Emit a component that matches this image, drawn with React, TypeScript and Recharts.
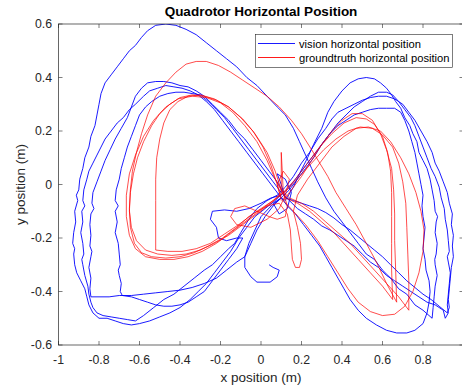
import { LineChart, Line, XAxis, YAxis } from "recharts"

// axis ticks
const xTicks = [-1, -0.8, -0.6, -0.4, -0.2, 0, 0.2, 0.4, 0.6, 0.8, 1]
const yTicks = [-0.6, -0.4, -0.2, 0, 0.2, 0.4, 0.6]

// vision estimate (x, y) in metres in flight order
const visionPath: [number, number][] = [
  [0.04, -0.3], [0.06, -0.31], [0.09, -0.32], [0.08, -0.345], [0.045, -0.365], [-0.02, -0.365], [-0.05, -0.345],
  [-0.08, -0.31], [-0.08, -0.27], [-0.06, -0.22], [-0.03, -0.17], [0.0, -0.12], [0.05, -0.08], [0.1, -0.05],
  // loop 1
  [0.12, -0.06], [0.16, -0.01], [0.19, 0.04], [0.23, 0.1], [0.26, 0.15], [0.3, 0.21], [0.33, 0.27], [0.36, 0.31],
  [0.4, 0.35], [0.44, 0.38], [0.48, 0.395], [0.52, 0.4], [0.56, 0.395], [0.59, 0.38], [0.62, 0.36], [0.645, 0.335],
  [0.665, 0.31], [0.69, 0.285], [0.71, 0.25], [0.735, 0.22], [0.75, 0.19], [0.77, 0.16], [0.78, 0.12], [0.8, 0.09],
  [0.82, 0.06], [0.835, 0.02], [0.845, -0.02], [0.855, -0.06], [0.86, -0.1], [0.872, -0.12], [0.865, -0.14],
  [0.86, -0.18], [0.87, -0.22], [0.865, -0.26], [0.858, -0.28], [0.86, -0.3], [0.87, -0.34], [0.86, -0.38],
  [0.855, -0.42], [0.85, -0.46], [0.845, -0.5], [0.8, -0.47], [0.76, -0.45], [0.72, -0.41], [0.68, -0.39],
  [0.64, -0.35], [0.6, -0.32], [0.56, -0.28], [0.52, -0.26], [0.48, -0.22], [0.44, -0.18], [0.4, -0.14],
  [0.36, -0.1], [0.32, -0.05], [0.28, 0.01], [0.25, 0.06], [0.22, 0.11], [0.19, 0.16], [0.16, 0.21], [0.12, 0.26],
  [0.08, 0.29], [0.03, 0.33], [-0.02, 0.37], [-0.07, 0.4], [-0.12, 0.44], [-0.17, 0.47], [-0.22, 0.5],
  [-0.27, 0.53], [-0.32, 0.56], [-0.37, 0.58], [-0.42, 0.595], [-0.47, 0.6], [-0.52, 0.595], [-0.56, 0.575],
  [-0.59, 0.55], [-0.62, 0.52], [-0.65, 0.5], [-0.68, 0.47], [-0.71, 0.44], [-0.74, 0.41], [-0.77, 0.38],
  [-0.79, 0.34], [-0.8, 0.3], [-0.81, 0.26], [-0.82, 0.22], [-0.84, 0.18], [-0.85, 0.14], [-0.87, 0.1],
  [-0.88, 0.06], [-0.895, 0.02], [-0.9, -0.02], [-0.912, -0.04], [-0.905, -0.06], [-0.92, -0.1], [-0.915, -0.14],
  [-0.925, -0.18], [-0.93, -0.22], [-0.92, -0.24], [-0.925, -0.26], [-0.92, -0.3], [-0.91, -0.33], [-0.89, -0.36],
  [-0.87, -0.39], [-0.86, -0.42], [-0.85, -0.45], [-0.83, -0.48], [-0.8, -0.5], [-0.76, -0.5], [-0.72, -0.51],
  [-0.68, -0.52], [-0.64, -0.525], [-0.6, -0.52], [-0.55, -0.51], [-0.5, -0.495], [-0.45, -0.48], [-0.4, -0.46],
  [-0.35, -0.43], [-0.31, -0.4], [-0.27, -0.37], [-0.23, -0.33], [-0.19, -0.29], [-0.15, -0.25], [-0.11, -0.2],
  [-0.07, -0.16], [-0.03, -0.12], [0.02, -0.09], [0.07, -0.06], [0.11, -0.03],
  // loop 2
  [0.08, 0.01], [0.04, 0.05], [0.0, 0.09], [-0.04, 0.13], [-0.08, 0.17], [-0.12, 0.2], [-0.16, 0.24], [-0.2, 0.27],
  [-0.24, 0.3], [-0.28, 0.33], [-0.32, 0.35], [-0.36, 0.365], [-0.4, 0.37], [-0.44, 0.38], [-0.48, 0.385],
  [-0.52, 0.385], [-0.56, 0.38], [-0.59, 0.36], [-0.62, 0.33], [-0.64, 0.29], [-0.66, 0.25], [-0.69, 0.21],
  [-0.72, 0.17], [-0.745, 0.13], [-0.77, 0.09], [-0.79, 0.05], [-0.81, 0.01], [-0.83, -0.03], [-0.835, -0.07],
  [-0.825, -0.09], [-0.84, -0.11], [-0.845, -0.15], [-0.84, -0.19], [-0.845, -0.23], [-0.835, -0.25],
  [-0.84, -0.27], [-0.85, -0.31], [-0.84, -0.35], [-0.845, -0.39], [-0.84, -0.42], [-0.8, -0.42], [-0.75, -0.42],
  [-0.7, -0.415], [-0.64, -0.415], [-0.58, -0.41], [-0.52, -0.405], [-0.46, -0.4], [-0.4, -0.395], [-0.34, -0.385],
  [-0.28, -0.37], [-0.22, -0.35], [-0.17, -0.32], [-0.12, -0.29], [-0.08, -0.27], [-0.05, -0.22], [-0.02, -0.17],
  [0.02, -0.12], [0.06, -0.08], [0.1, -0.05], [0.14, -0.02], [0.18, 0.02], [0.22, 0.06], [0.26, 0.1], [0.3, 0.15],
  [0.34, 0.19], [0.38, 0.23], [0.42, 0.26], [0.46, 0.29], [0.5, 0.31], [0.54, 0.33], [0.58, 0.345], [0.62, 0.345],
  [0.65, 0.335], [0.68, 0.31], [0.71, 0.28], [0.74, 0.25], [0.76, 0.22], [0.78, 0.18], [0.8, 0.14], [0.82, 0.1],
  [0.84, 0.06], [0.86, 0.03], [0.88, -0.01], [0.89, -0.05], [0.905, -0.09], [0.91, -0.13], [0.92, -0.17],
  [0.925, -0.21], [0.93, -0.25], [0.92, -0.27], [0.925, -0.29], [0.935, -0.33], [0.93, -0.37], [0.925, -0.41],
  [0.92, -0.45], [0.925, -0.48], [0.91, -0.5], [0.9, -0.47], [0.86, -0.45], [0.82, -0.44], [0.78, -0.42],
  [0.74, -0.4], [0.7, -0.38], [0.66, -0.36], [0.62, -0.34], [0.58, -0.31], [0.54, -0.29], [0.5, -0.26],
  [0.46, -0.23], [0.42, -0.21], [0.38, -0.19], [0.34, -0.17], [0.3, -0.155], [0.26, -0.13], [0.22, -0.11],
  [0.18, -0.09], [0.14, -0.06],
  // loop 3
  [0.1, -0.03], [0.06, 0.01], [0.02, 0.05], [-0.02, 0.09], [-0.06, 0.13], [-0.1, 0.17], [-0.14, 0.21], [-0.18, 0.25],
  [-0.22, 0.28], [-0.26, 0.31], [-0.3, 0.335], [-0.34, 0.34], [-0.38, 0.345], [-0.42, 0.345], [-0.46, 0.34],
  [-0.5, 0.33], [-0.54, 0.31], [-0.57, 0.29], [-0.6, 0.26], [-0.62, 0.22], [-0.64, 0.18], [-0.66, 0.14],
  [-0.675, 0.1], [-0.69, 0.06], [-0.7, 0.02], [-0.715, -0.02], [-0.72, -0.06], [-0.705, -0.08], [-0.72, -0.1],
  [-0.71, -0.14], [-0.72, -0.18], [-0.705, -0.22], [-0.7, -0.26], [-0.695, -0.3], [-0.705, -0.32], [-0.7, -0.34],
  [-0.69, -0.37], [-0.695, -0.4], [-0.685, -0.415], [-0.64, -0.42], [-0.6, -0.43], [-0.56, -0.44], [-0.52, -0.45],
  [-0.48, -0.455], [-0.44, -0.455], [-0.4, -0.45], [-0.36, -0.44], [-0.32, -0.42], [-0.28, -0.4], [-0.24, -0.36],
  [-0.2, -0.32], [-0.16, -0.28], [-0.12, -0.24], [-0.09, -0.2], [-0.12, -0.2], [-0.17, -0.21], [-0.21, -0.2],
  [-0.22, -0.16], [-0.25, -0.13], [-0.24, -0.1], [-0.18, -0.095], [-0.12, -0.1], [-0.06, -0.09], [0.0, -0.07],
  [0.05, -0.05], [0.1, -0.04], [0.14, -0.01], [0.18, 0.03], [0.22, 0.07], [0.26, 0.11], [0.3, 0.15], [0.34, 0.19],
  [0.38, 0.22], [0.42, 0.24], [0.46, 0.26], [0.5, 0.27], [0.54, 0.28], [0.58, 0.285], [0.62, 0.285], [0.66, 0.285],
  [0.69, 0.27], [0.71, 0.24], [0.73, 0.2], [0.745, 0.16], [0.76, 0.12], [0.77, 0.08], [0.78, 0.04], [0.79, 0.0],
  [0.8, -0.04], [0.795, -0.08], [0.8, -0.12], [0.81, -0.16], [0.805, -0.2], [0.8, -0.24], [0.81, -0.28],
  [0.815, -0.32], [0.83, -0.36], [0.835, -0.4], [0.83, -0.44], [0.82, -0.48], [0.8, -0.52], [0.76, -0.545],
  [0.72, -0.555], [0.67, -0.555], [0.62, -0.545], [0.57, -0.525], [0.52, -0.5], [0.48, -0.47], [0.44, -0.43],
  [0.41, -0.39], [0.38, -0.35], [0.35, -0.31], [0.32, -0.27], [0.29, -0.23], [0.25, -0.19], [0.21, -0.15],
  [0.17, -0.11], [0.13, -0.08],
  // loop 4
  [0.09, -0.04], [0.05, 0.0], [0.01, 0.04], [-0.03, 0.08], [-0.07, 0.12], [-0.11, 0.16], [-0.15, 0.2], [-0.19, 0.24],
  [-0.23, 0.28], [-0.27, 0.31], [-0.31, 0.335], [-0.35, 0.35], [-0.39, 0.36], [-0.43, 0.365], [-0.47, 0.37],
  [-0.51, 0.36], [-0.55, 0.35], [-0.58, 0.33], [-0.62, 0.3], [-0.65, 0.28], [-0.68, 0.25], [-0.71, 0.23],
  [-0.74, 0.2], [-0.77, 0.17], [-0.79, 0.14], [-0.81, 0.11], [-0.83, 0.08], [-0.85, 0.05], [-0.86, 0.02],
  [-0.875, -0.02], [-0.88, -0.06], [-0.87, -0.08], [-0.885, -0.1], [-0.88, -0.14], [-0.89, -0.18], [-0.88, -0.22],
  [-0.875, -0.26], [-0.885, -0.28], [-0.88, -0.3], [-0.87, -0.34], [-0.855, -0.38], [-0.85, -0.41], [-0.84, -0.44],
  [-0.83, -0.46], [-0.81, -0.48], [-0.78, -0.49], [-0.74, -0.495], [-0.7, -0.5], [-0.66, -0.505], [-0.62, -0.51],
  [-0.58, -0.49], [-0.53, -0.46], [-0.48, -0.43], [-0.43, -0.41], [-0.38, -0.38], [-0.33, -0.35], [-0.28, -0.32],
  [-0.24, -0.3], [-0.2, -0.27], [-0.16, -0.24], [-0.13, -0.22], [-0.1, -0.18], [-0.06, -0.13], [-0.02, -0.09],
  [0.03, -0.06], [0.08, -0.04], [0.12, -0.01], [0.16, 0.03], [0.2, 0.08], [0.24, 0.12], [0.28, 0.17], [0.32, 0.21],
  [0.35, 0.245], [0.38, 0.27], [0.42, 0.285], [0.46, 0.3], [0.5, 0.315], [0.54, 0.325], [0.58, 0.33], [0.62, 0.33],
  [0.66, 0.32], [0.7, 0.3], [0.73, 0.27], [0.76, 0.24], [0.79, 0.2], [0.82, 0.16], [0.845, 0.12], [0.86, 0.08],
  [0.88, 0.05], [0.9, 0.01], [0.92, -0.03], [0.93, -0.07], [0.945, -0.11], [0.94, -0.15], [0.95, -0.19],
  [0.945, -0.23], [0.95, -0.27], [0.94, -0.31], [0.935, -0.35], [0.93, -0.39], [0.925, -0.43], [0.93, -0.46],
  [0.92, -0.48], [0.88, -0.455], [0.84, -0.43], [0.8, -0.41], [0.76, -0.385], [0.72, -0.36], [0.68, -0.33],
  [0.64, -0.3], [0.6, -0.27], [0.56, -0.245], [0.52, -0.22], [0.48, -0.195], [0.44, -0.17], [0.4, -0.15],
  [0.36, -0.125], [0.32, -0.105], [0.28, -0.09], [0.24, -0.08], [0.2, -0.07], [0.16, -0.06], [0.12, -0.05],
  [0.1, 0.0], [0.08, 0.04], [0.12, 0.02], [0.15, -0.03], [0.13, -0.09], [0.09, -0.11], [0.06, -0.07], [0.1, -0.05],
]

// ground truth (x, y) in metres
const groundtruthPath: [number, number][] = [
  // loop 1
  [0.1, -0.05], [0.08, 0.0], [0.05, 0.07], [0.01, 0.14], [-0.04, 0.2], [-0.1, 0.25], [-0.16, 0.29], [-0.22, 0.315],
  [-0.28, 0.33], [-0.34, 0.335], [-0.4, 0.325], [-0.45, 0.3], [-0.5, 0.265], [-0.54, 0.22], [-0.58, 0.16],
  [-0.61, 0.1], [-0.63, 0.04], [-0.645, -0.03], [-0.65, -0.1], [-0.64, -0.16], [-0.615, -0.21], [-0.57, -0.245],
  [-0.51, -0.26], [-0.44, -0.265], [-0.37, -0.26], [-0.3, -0.245], [-0.23, -0.22], [-0.16, -0.19], [-0.09, -0.15],
  [-0.02, -0.11], [0.05, -0.07], [0.11, -0.03], [0.17, 0.02], [0.23, 0.08], [0.29, 0.14], [0.35, 0.19],
  [0.41, 0.23], [0.47, 0.25], [0.52, 0.245], [0.56, 0.225], [0.6, 0.18], [0.625, 0.12], [0.64, 0.05],
  [0.645, -0.03], [0.645, -0.12], [0.645, -0.22], [0.645, -0.32], [0.65, -0.43], [0.6, -0.38], [0.54, -0.33],
  [0.48, -0.28], [0.42, -0.23], [0.36, -0.18], [0.3, -0.14], [0.24, -0.1], [0.18, -0.07], [0.12, -0.05],
  // loop 2
  [0.07, 0.02], [0.03, 0.09], [-0.02, 0.16], [-0.08, 0.22], [-0.14, 0.27], [-0.2, 0.305], [-0.27, 0.325],
  [-0.34, 0.33], [-0.41, 0.32], [-0.47, 0.29], [-0.53, 0.24], [-0.58, 0.18], [-0.62, 0.11], [-0.65, 0.04],
  [-0.665, -0.04], [-0.665, -0.12], [-0.65, -0.19], [-0.62, -0.24], [-0.57, -0.27], [-0.5, -0.28], [-0.43, -0.28],
  [-0.36, -0.27], [-0.29, -0.25], [-0.22, -0.22], [-0.15, -0.18], [-0.08, -0.14], [-0.01, -0.1], [0.06, -0.06],
  [0.13, -0.02], [0.19, 0.03], [0.25, 0.08], [0.31, 0.13], [0.37, 0.17], [0.43, 0.2], [0.49, 0.215], [0.55, 0.21],
  [0.6, 0.185], [0.65, 0.14], [0.68, 0.08], [0.7, 0.01], [0.715, -0.07], [0.72, -0.16], [0.725, -0.26],
  [0.73, -0.36], [0.73, -0.47], [0.68, -0.42], [0.62, -0.37], [0.56, -0.32], [0.5, -0.27], [0.44, -0.22],
  [0.38, -0.18], [0.32, -0.14], [0.26, -0.1], [0.2, -0.07], [0.14, -0.05],
  // loop 3
  [0.1, -0.02], [0.07, 0.05], [0.03, 0.12], [-0.03, 0.19], [-0.09, 0.245], [-0.16, 0.29], [-0.23, 0.32],
  [-0.3, 0.335], [-0.36, 0.33], [-0.41, 0.31], [-0.45, 0.28], [-0.48, 0.23], [-0.5, 0.17], [-0.515, 0.1],
  [-0.52, 0.02], [-0.52, -0.06], [-0.52, -0.14], [-0.52, -0.2], [-0.52, -0.245], [-0.46, -0.25], [-0.39, -0.25],
  [-0.32, -0.24], [-0.25, -0.22], [-0.18, -0.185], [-0.11, -0.15], [-0.04, -0.11], [0.03, -0.08], [0.09, -0.07],
  [0.13, -0.11], [0.145, -0.17], [0.15, -0.23], [0.155, -0.28], [0.17, -0.31], [0.19, -0.31], [0.2, -0.28],
  [0.195, -0.22], [0.18, -0.16], [0.16, -0.1], [0.18, -0.04], [0.23, 0.02], [0.29, 0.08], [0.35, 0.14],
  [0.41, 0.18], [0.47, 0.21], [0.53, 0.215], [0.59, 0.2], [0.64, 0.16], [0.69, 0.1], [0.73, 0.04], [0.765, -0.03],
  [0.79, -0.1], [0.805, -0.17], [0.8, -0.25], [0.78, -0.33], [0.75, -0.4], [0.71, -0.455], [0.66, -0.485],
  [0.6, -0.49], [0.54, -0.475], [0.48, -0.44], [0.43, -0.39], [0.38, -0.33], [0.33, -0.27], [0.28, -0.21],
  [0.22, -0.15], [0.16, -0.1], [0.11, -0.06],
  // loop 4
  [0.15, -0.02], [0.2, 0.03], [0.25, 0.09], [0.3, 0.15], [0.35, 0.2], [0.4, 0.24], [0.45, 0.265], [0.5, 0.265],
  [0.55, 0.24], [0.59, 0.19], [0.62, 0.13], [0.645, 0.06], [0.655, -0.02], [0.66, -0.11], [0.66, -0.21],
  [0.665, -0.32], [0.67, -0.44], [0.62, -0.37], [0.57, -0.29], [0.52, -0.22], [0.47, -0.15], [0.42, -0.09],
  [0.37, -0.03], [0.33, 0.03], [0.29, 0.08], [0.25, 0.13], [0.2, 0.19], [0.15, 0.24], [0.09, 0.29], [0.03, 0.33],
  [-0.03, 0.36], [-0.09, 0.39], [-0.15, 0.42], [-0.21, 0.445], [-0.27, 0.46], [-0.32, 0.46], [-0.37, 0.45],
  [-0.42, 0.42], [-0.47, 0.38], [-0.52, 0.33], [-0.56, 0.26], [-0.59, 0.19], [-0.615, 0.12], [-0.635, 0.05],
  [-0.645, -0.02], [-0.65, -0.09], [-0.645, -0.16], [-0.625, -0.22], [-0.59, -0.255], [-0.54, -0.27],
  [-0.47, -0.275], [-0.4, -0.27], [-0.33, -0.255], [-0.26, -0.23], [-0.19, -0.2], [-0.12, -0.16], [-0.06, -0.12],
  [0.0, -0.09], [0.06, -0.06], [0.1, -0.03], [0.1, 0.04], [0.1, 0.12], [0.105, 0.05], [0.11, -0.03], [0.13, -0.08],
  [0.12, -0.12], [0.08, -0.13], [0.04, -0.12], [-0.02, -0.1], [-0.08, -0.08], [-0.13, -0.09], [-0.15, -0.12],
  [-0.12, -0.15], [-0.05, -0.16], [0.03, -0.13], [0.09, -0.09], [0.12, -0.04], [0.14, 0.02], [0.11, 0.05],
  [0.08, 0.0], [0.1, -0.06],
]

const visionData = visionPath.map(([x, y]) => ({ x, y }))
const groundtruthData = groundtruthPath.map(([x, y]) => ({ x, y }))

const AXIS = "#262626"
const FONT = "'Liberation Sans', Arial, Helvetica, sans-serif"
// plot box in pixels (MATLAB axes position); its right edge falls just outside the window
const BOX = { left: 58.5, right: 463.5, top: 24, bottom: 345 }

const fmt = (v: number) => String(Math.round(v * 10) / 10)

function XTick(props: any) {
  const { x, payload } = props
  // the label of the last tick sits past the window edge in the original
  const showLabel = x < BOX.right - 10
  return (
    <g>
      <line x1={x} x2={x} y1={BOX.bottom} y2={BOX.bottom - 4} stroke={AXIS} strokeWidth={0.6} />
      <line x1={x} x2={x} y1={BOX.top} y2={BOX.top + 4} stroke={AXIS} strokeWidth={0.6} />
      {showLabel && (
        <text x={x} y={BOX.bottom + 19} textAnchor="middle" fill={AXIS} fontSize={12.3} fontFamily={FONT}>
          {fmt(payload.value)}
        </text>
      )}
    </g>
  )
}

function YTick(props: any) {
  const { y, payload } = props
  return (
    <g>
      <line x1={BOX.left} x2={BOX.left + 4} y1={y} y2={y} stroke={AXIS} strokeWidth={0.6} />
      <line x1={BOX.right} x2={BOX.right - 4} y1={y} y2={y} stroke={AXIS} strokeWidth={0.6} />
      <text x={52} y={y + 4.4} textAnchor="end" fill={AXIS} fontSize={12.3} fontFamily={FONT}>
        {fmt(payload.value)}
      </text>
    </g>
  )
}

export default function App() {
  return (
    <div style={{ position: "fixed", left: 0, top: 0, width: 462, height: 389, overflow: "hidden", background: "#fff" }}>
      <LineChart width={470} height={389} margin={{ top: BOX.top, right: 470 - BOX.right, bottom: 0, left: 0 }}>
        <XAxis
          type="number"
          dataKey="x"
          domain={[-1, 1]}
          ticks={xTicks}
          allowDataOverflow
          height={389 - BOX.bottom}
          tickLine={false}
          axisLine={false}
          tick={<XTick />}
          interval={0}
        />
        <YAxis
          type="number"
          dataKey="y"
          domain={[-0.6, 0.6]}
          ticks={yTicks}
          allowDataOverflow
          width={BOX.left}
          tickLine={false}
          axisLine={false}
          tick={<YTick />}
          interval={0}
        />
        <Line
          data={visionData}
          dataKey="y"
          name="vision horizontal position"
          stroke="#0000ff"
          strokeWidth={0.9}
          dot={false}
          activeDot={false}
          isAnimationActive={false}
        />
        <Line
          data={groundtruthData}
          dataKey="y"
          name="groundtruth horizontal position"
          stroke="#ff0000"
          strokeWidth={0.7}
          dot={false}
          activeDot={false}
          isAnimationActive={false}
        />
      </LineChart>
      <svg width={470} height={389} style={{ position: "absolute", left: 0, top: 0, pointerEvents: "none" }}>
        <rect
          x={BOX.left}
          y={BOX.top}
          width={BOX.right - BOX.left}
          height={BOX.bottom - BOX.top}
          fill="none"
          stroke={AXIS}
          strokeWidth={0.7}
        />
        <text x={261} y={16} textAnchor="middle" fontSize={13.5} fontWeight="bold" fill="#000" fontFamily={FONT}>
          Quadrotor Horizontal Position
        </text>
        <text x={261} y={381.5} textAnchor="middle" fontSize={13.5} fill={AXIS} fontFamily={FONT}>
          x position (m)
        </text>
        <text
          x={24.5}
          y={184.5}
          textAnchor="middle"
          fontSize={13.5}
          fill={AXIS}
          fontFamily={FONT}
          transform="rotate(-90 24.5 184.5)"
        >
          y position (m)
        </text>
        <g>
          <rect x={255.5} y={34.5} width={197} height={33} fill="#fff" stroke={AXIS} strokeWidth={0.6} />
          <line x1={258} x2={295} y1={43.5} y2={43.5} stroke="#0000ff" strokeWidth={0.9} />
          <line x1={258} x2={295} y1={57.5} y2={57.5} stroke="#ff0000" strokeWidth={0.9} />
          <text x={299} y={47.5} fontSize={11.2} fill="#000" fontFamily={FONT}>
            vision horizontal position
          </text>
          <text x={299} y={61.5} fontSize={11.2} fill="#000" fontFamily={FONT}>
            groundtruth horizontal position
          </text>
        </g>
      </svg>
    </div>
  )
}
